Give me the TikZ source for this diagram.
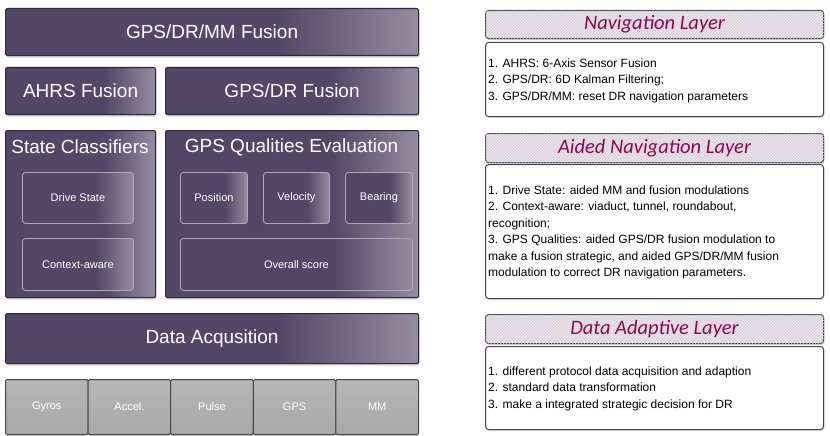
\documentclass[tikz,border=0pt]{standalone}
\usepackage{fontspec}
\setmainfont{Liberation Sans}
\newfontfamily\layerfont{Carlito}
\usetikzlibrary{shadows}
\usetikzlibrary{patterns}
\definecolor{plum}{RGB}{82,71,102}
\definecolor{plumlight}{RGB}{150,140,162}
\definecolor{plumedge}{RGB}{48,40,58}
\definecolor{plumrim}{RGB}{175,168,185}
\definecolor{sensorgrey}{RGB}{168,168,168}
\definecolor{sensortop}{RGB}{182,182,182}
\definecolor{titlepink}{RGB}{220,210,222}
\definecolor{layerred}{RGB}{140,8,82}
\definecolor{frame}{RGB}{70,70,70}
\pgfdeclarehorizontalshading{plumgloss}{100bp}{color(0bp)=(plum); color(25bp)=(plum); color(58bp)=(plum); color(75bp)=(plumlight); color(100bp)=(plumlight)}

\tikzset{
  plumbox/.style={draw=plumedge, line width=1.1pt, rounded corners=2pt,
    shading=plumgloss, anchor=north west, inner sep=0pt, text=white,
    drop shadow={opacity=0.35, shadow xshift=1pt, shadow yshift=-2pt}},
  innerbox/.style={draw=plumrim, line width=0.9pt, rounded corners=3pt,
    shading=plumgloss, anchor=north west, inner sep=0pt, text=white,
    font=\fontsize{11}{13}\selectfont,
    drop shadow={opacity=0.25, shadow xshift=0.5pt, shadow yshift=-1pt}},
  sensorbox/.style={draw=frame, line width=1pt, rounded corners=1.5pt,
    top color=sensortop, bottom color=sensorgrey,
    anchor=north west, inner sep=0pt, text=white,
    font=\fontsize{11}{13}\selectfont,
    drop shadow={opacity=0.3, shadow xshift=0pt, shadow yshift=-2pt}},
  layertitle/.style={draw=frame, line width=1.1pt, rounded corners=3pt,
    fill=titlepink, postaction={pattern=north east lines, pattern color=white!60!titlepink},
    anchor=north west, inner sep=0pt, text=layerred,
    font=\layerfont\itshape\fontsize{20.5}{24}\selectfont,
    drop shadow={opacity=0.3, shadow xshift=1pt, shadow yshift=-1.5pt}},
  layerbody/.style={draw=frame, line width=1pt, rounded corners=3pt, fill=white,
    anchor=north west, inner sep=0pt,
    drop shadow={opacity=0.25, shadow xshift=1pt, shadow yshift=-1.5pt}},
  layertext/.style={anchor=north west, inner sep=0pt, align=left,
    font=\fontsize{12}{16.5}\selectfont},
  big/.style={font=\fontsize{19}{22}\selectfont}
}

\begin{document}
\begin{tikzpicture}[x=1pt,y=-1pt]
\useasboundingbox (0,0) rectangle (830,436);
% left stack
\node[plumbox, big, minimum width=413, minimum height=47] (mmfusion) at (5,8) {GPS/DR/MM Fusion};
\node[plumbox, big, minimum width=150, minimum height=47] (ahrs) at (5,67) {AHRS Fusion};
\node[plumbox, big, minimum width=253, minimum height=47] (drfusion) at (165,67) {GPS/DR Fusion};
\node[plumbox, minimum width=150, minimum height=167] (classif) at (5,130) {};
\node[plumbox, minimum width=253, minimum height=167] (quality) at (165,130) {};
\node[big, text=white, anchor=center] (classiftitle) at (80,147) {State Classifiers};
\node[big, text=white, anchor=center] (qualitytitle) at (291.5,147) {GPS Qualities Evaluation};
\node[innerbox, minimum width=111, minimum height=51] (drive) at (22,172) {Drive State};
\node[innerbox, minimum width=111, minimum height=52] (context) at (22,238) {Context-aware};
\node[innerbox, minimum width=67, minimum height=51] (position) at (180,172) {Position};
\node[innerbox, minimum width=66, minimum height=51] (velocity) at (263,172) {Velocity};
\node[innerbox, minimum width=67, minimum height=51] (bearing) at (345,172) {Bearing};
\node[innerbox, minimum width=232, minimum height=52] (overall) at (180,238) {Overall score};
\node[plumbox, big, minimum width=413, minimum height=50] (acquire) at (5,313) {Data Acqusition};
\foreach \name/\lbl [count=\i] in {gyros/Gyros, accel/Accel., pulse/Pulse, gps/GPS, mm/MM}
  \node[sensorbox, minimum width=82.6, minimum height=55] (\name) at ({5+82.6*(\i-1)},379) {\lbl};
% right column
\node[layertitle, minimum width=338, minimum height=28] (navtitle) at (485,10) {Navigation Layer};
\node[layerbody, minimum width=338, minimum height=74] (navbody) at (485,42) {};
\node[layertext] (navtext) at (488,58.5) {1. AHRS: 6-Axis Sensor Fusion\\2. GPS/DR: 6D Kalman Filtering;\\3. GPS/DR/MM: reset DR navigation parameters};
\node[layertitle, minimum width=338, minimum height=29] (aidtitle) at (485,133) {Aided Navigation Layer};
\node[layerbody, minimum width=338, minimum height=134] (aidbody) at (485,164) {};
\node[layertext] (aidtext) at (488,185.5) {1. Drive State: aided MM and fusion modulations\\2. Context-aware: viaduct, tunnel, roundabout,\\recognition;\\3. GPS Qualities: aided GPS/DR fusion modulation to\\make a fusion strategic, and aided GPS/DR/MM fusion\\modulation to correct DR navigation parameters.};
\node[layertitle, minimum width=338, minimum height=29] (adapttitle) at (485,314) {Data Adaptive Layer};
\node[layerbody, minimum width=338, minimum height=83] (adaptbody) at (485,346) {};
\node[layertext] (adapttext) at (488,366.5) {1. different protocol data acquisition and adaption\\2. standard data transformation\\3. make a integrated strategic decision for DR};
\end{tikzpicture}
\end{document}
